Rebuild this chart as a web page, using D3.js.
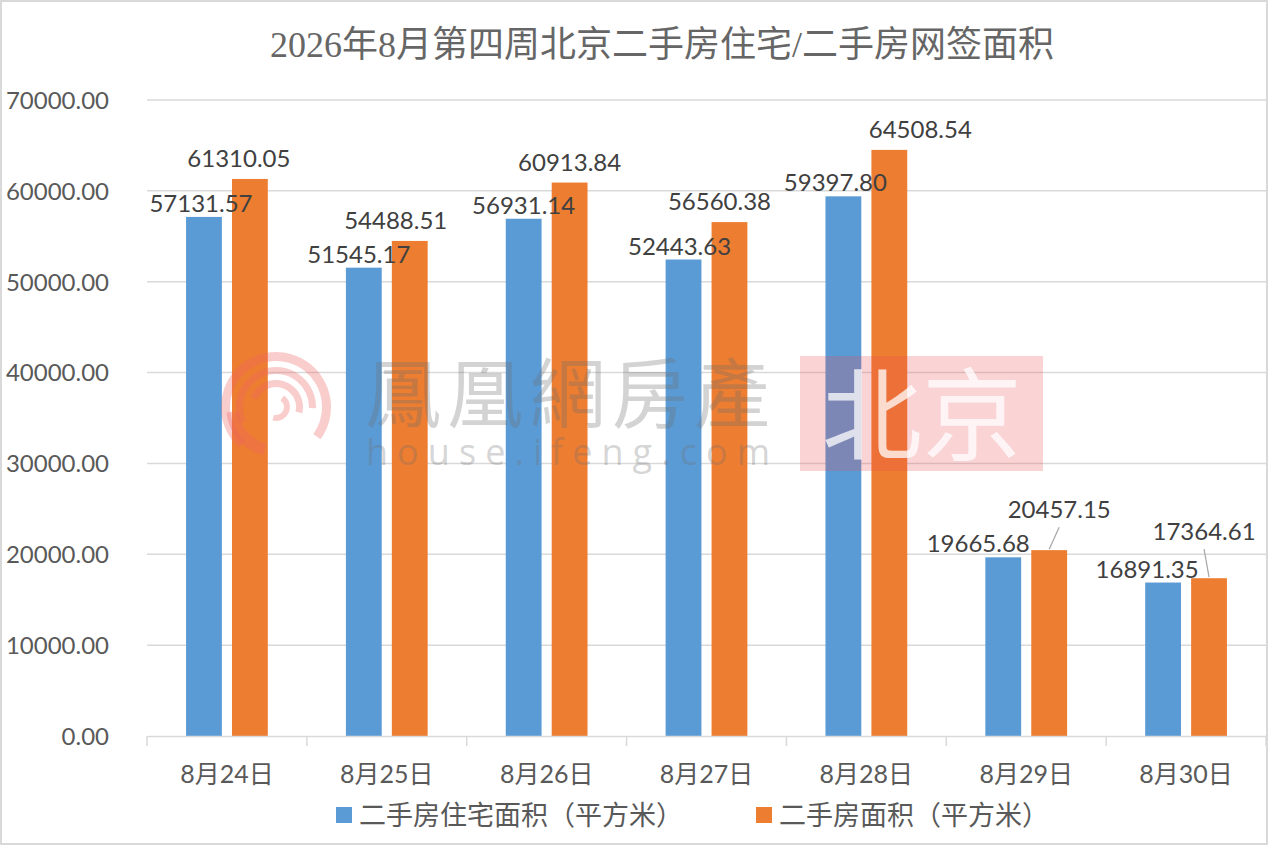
<!DOCTYPE html>
<html>
<head>
<meta charset="utf-8">
<script src="https://cdn.jsdelivr.net/npm/d3@7"></script>
<style>
    html, body { margin: 0; padding: 0; background: #fff; }
    svg { display: block; }
</style>
</head>
<body>
<div id="chart"></div>
<script>

/*********** DONNEES ***********/

const titre = "2026年8月第四周北京二手房住宅/二手房网签面积"
const jours = ["8月24日", "8月25日", "8月26日", "8月27日", "8月28日", "8月29日", "8月30日"]
const nomsSeries = ["二手房住宅面积（平方米）", "二手房面积（平方米）"]
const surfaceResidentielle = [57131.57, 51545.17, 56931.14, 52443.63, 59397.80, 19665.68, 16891.35]
const surfaceTotale = [61310.05, 54488.51, 60913.84, 56560.38, 64508.54, 20457.15, 17364.61]
const ticksY = [0, 10000, 20000, 30000, 40000, 50000, 60000, 70000]

const couleurs = ["#5B9BD5", "#ED7D31"]

// decalage des etiquettes (comme dans le fichier excel d'origine)
const decalageEtiquettes = {
    "8月24日": [{ dx: -3 }, { dx: -11 }],
    "8月25日": [{ dx: -5 }, { dx: -14 }],
    "8月26日": [{ dx: 0 }, { dx: 0 }],
    "8月27日": [{ dx: -4 }, { dx: -10 }],
    "8月28日": [{ dx: -8 }, { dx: 31 }],
    "8月29日": [{ dx: -25 }, { dx: 10, dy: -20, ligne: true }],
    "8月30日": [{ dx: -16 }, { dx: -5, dy: -26, ligne: true }]
}
const ecartEtiquette = [5, 12]

/*********** GRAPHIQUE ***********/

const width = 1269, height = 846
const margin = { top: 100, right: 3, bottom: 110, left: 147 }

const svg = d3.select("#chart").append("svg")
    .attr("width", width)
    .attr("height", height)

// cadre
svg.append("rect")
    .attr("x", 1).attr("y", 1)
    .attr("width", width - 3).attr("height", height - 3)
    .attr("fill", "#fff")
    .attr("stroke", "#d9d9d9")
    .attr("stroke-width", 2)

const chartData = jours.map(function (j, i) {
    return { jour: j, valeurs: [surfaceResidentielle[i], surfaceTotale[i]] }
})

const x0 = d3.scaleBand()
    .domain(jours)
    .range([margin.left, width - margin.right])
    .padding(0)

const x1 = d3.scaleBand()
    .domain([0, 1])
    .range([0, x0.bandwidth()])
    .paddingInner(0.22)
    .paddingOuter(0.85)

const y = d3.scaleLinear()
    .domain([0, 70000])
    .range([height - margin.bottom, margin.top])

// lignes de grille
svg.append("g")
    .selectAll("line")
    .data(ticksY.slice(1))
    .enter()
    .append("line")
    .attr("x1", margin.left)
    .attr("x2", width - margin.right)
    .attr("y1", d => y(d))
    .attr("y2", d => y(d))
    .attr("stroke", "#d9d9d9")
    .attr("stroke-width", 1.5)

// axe Y
const axeY = svg.append("g")
    .attr("transform", "translate(" + (margin.left - 35) + ",0)")
    .call(d3.axisLeft(y).tickValues(ticksY).tickSize(0).tickFormat(d3.format(".2f")))
axeY.select(".domain").remove()
axeY.selectAll("text")
    .attr("fill", "#595959")
    .attr("dy", "0.35em")
    .style("font-family", "Lato, 'Noto Sans CJK SC', sans-serif")
    .style("font-size", "24px")

// barres
const groupes = svg.append("g")
    .selectAll("g")
    .data(chartData)
    .enter()
    .append("g")
    .attr("transform", d => "translate(" + x0(d.jour) + ",0)")

groupes.selectAll("rect")
    .data(d => d.valeurs.map((v, s) => ({ jour: d.jour, serie: s, valeur: v })))
    .enter()
    .append("rect")
    .attr("x", d => x1(d.serie))
    .attr("y", d => y(d.valeur))
    .attr("width", x1.bandwidth())
    .attr("height", d => y(0) - y(d.valeur))
    .attr("fill", d => couleurs[d.serie])

// axe X
const axeX = svg.append("g")
    .attr("transform", "translate(0," + y(0) + ")")
    .call(d3.axisBottom(x0).tickSize(0).tickPadding(44))
axeX.select(".domain").attr("stroke", "#d9d9d9").attr("stroke-width", 1.5)
axeX.selectAll("text")
    .attr("fill", "#595959")
    .style("font-family", "Lato, 'Noto Sans CJK SC', sans-serif")
    .style("font-size", "25px")
    .attr("dy", "0.1em")

// petites graduations entre les categories
svg.append("g")
    .selectAll("line")
    .data(jours.concat(["fin"]))
    .enter()
    .append("line")
    .attr("x1", (d, i) => i < jours.length ? x0(d) : x0.range()[1])
    .attr("x2", (d, i) => i < jours.length ? x0(d) : x0.range()[1])
    .attr("y1", y(0))
    .attr("y2", y(0) + 10)
    .attr("stroke", "#d9d9d9")
    .attr("stroke-width", 1.5)

// etiquettes de donnees
const etiquettes = []
chartData.forEach(function (d) {
    d.valeurs.forEach(function (v, s) {
        const dec = decalageEtiquettes[d.jour][s]
        const cx = x0(d.jour) + x1(s) + x1.bandwidth() / 2
        const haut = y(v)
        etiquettes.push({
            valeur: v,
            cx: cx,
            haut: haut,
            lx: cx + (dec.dx || 0),
            ly: haut - ecartEtiquette[s] + (dec.dy || 0),
            ligne: dec.ligne
        })
    })
})

svg.append("g")
    .selectAll("line")
    .data(etiquettes.filter(e => e.ligne))
    .enter()
    .append("line")
    .attr("x1", e => e.lx)
    .attr("y1", e => e.ly + 9)
    .attr("x2", e => e.cx)
    .attr("y2", e => e.haut - 1)
    .attr("stroke", "#a6a6a6")
    .attr("stroke-width", 1.2)

svg.append("g")
    .selectAll("text")
    .data(etiquettes)
    .enter()
    .append("text")
    .attr("x", e => e.lx)
    .attr("y", e => e.ly)
    .attr("text-anchor", "middle")
    .attr("fill", "#404040")
    .style("font-family", "Lato, sans-serif")
    .style("font-size", "24px")
    .text(e => d3.format(".2f")(e.valeur))

// titre
svg.append("text")
    .attr("x", 662)
    .attr("y", 57)
    .attr("text-anchor", "middle")
    .attr("fill", "#666")
    .style("font-family", "'Liberation Serif', 'Noto Sans CJK SC', serif")
    .style("font-size", "36px")
    .text(titre)

// legende
const legende = svg.append("g")
    .attr("transform", "translate(0,815)")
const positionsLegende = [336, 756]
nomsSeries.forEach(function (nom, s) {
    const g = legende.append("g").attr("transform", "translate(" + positionsLegende[s] + ",0)")
    g.append("rect")
        .attr("x", 0).attr("y", -8)
        .attr("width", 16).attr("height", 16)
        .attr("fill", couleurs[s])
    g.append("text")
        .attr("x", 23)
        .attr("y", 0)
        .attr("dy", "0.36em")
        .attr("fill", "#595959")
        .style("font-family", "'Noto Sans CJK SC', sans-serif")
        .style("font-size", "27px")
        .text(nom)
})

/*********** FILIGRANE ***********/

const filigrane = svg.append("g").attr("pointer-events", "none")

// logo
const logo = filigrane.append("g").attr("transform", "translate(276,407)")
const arcLogo = d3.arc()
const morceaux = [
    { r0: 46, r1: 55, a0: -2.4, a1: 2.2 },
    { r0: 33, r1: 40, a0: -2.0, a1: 1.6 },
    { r0: 20, r1: 27, a0: -1.2, a1: 1.8 },
    { r0: 8, r1: 14, a0: 0.6, a1: 3.4 },
    { r0: 38, r1: 50, a0: 3.4, a1: 4.6 }
]
logo.selectAll("path")
    .data(morceaux)
    .enter()
    .append("path")
    .attr("d", m => arcLogo({ innerRadius: m.r0, outerRadius: m.r1, startAngle: m.a0, endAngle: m.a1 }))
    .attr("fill", "rgba(238,100,100,0.32)")

filigrane.append("text")
    .attr("x", 365)
    .attr("y", 422)
    .attr("textLength", 405)
    .attr("fill", "rgba(110,110,110,0.3)")
    .style("font-family", "'Noto Sans CJK TC', serif")
    .style("font-size", "76px")
    .text("鳳凰網房產")

filigrane.append("text")
    .attr("x", 366)
    .attr("y", 465)
    .attr("textLength", 404)
    .attr("fill", "rgba(110,110,110,0.3)")
    .style("font-family", "'Open Sans', sans-serif")
    .style("font-size", "36px")
    .text("house.ifeng.com")

filigrane.append("rect")
    .attr("x", 800).attr("y", 356)
    .attr("width", 243).attr("height", 115)
    .attr("fill", "rgba(235,70,80,0.24)")

filigrane.append("text")
    .attr("x", 922)
    .attr("y", 452)
    .attr("text-anchor", "middle")
    .attr("fill", "rgba(255,255,255,0.75)")
    .style("font-family", "'Noto Sans CJK SC', serif")
    .style("font-size", "100px")
    .text("北京")

</script>
</body>
</html>
